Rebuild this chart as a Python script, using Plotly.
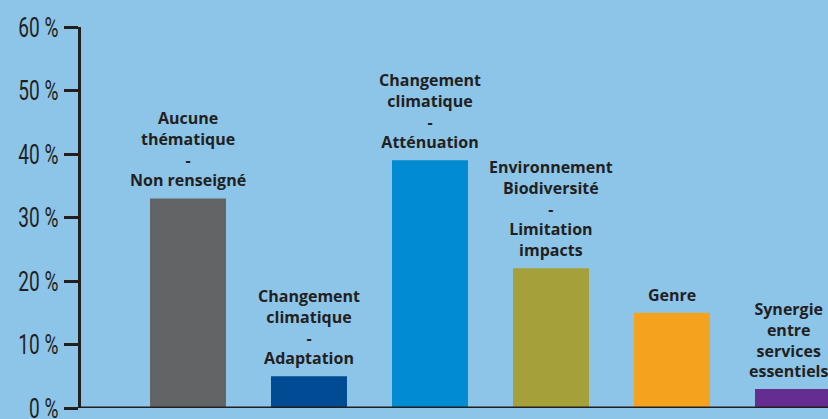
import plotly.graph_objects as go

categories = [
    "Aucune<br>thématique<br>-<br>Non renseigné",
    "Changement<br>climatique<br>-<br>Adaptation",
    "Changement<br>climatique<br>-<br>Atténuation",
    "Environnement<br>Biodiversité<br>-<br>Limitation<br>impacts",
    "Genre",
    "Synergie<br>entre<br>services<br>essentiels",
]
values = [33, 5, 39, 22, 15, 3]
colors = ["#636466", "#004b93", "#008bd2", "#a5a03a", "#f5a31e", "#652d90"]
tick_vals = [0, 10, 20, 30, 40, 50, 60]
tick_text = ["0 %", "10 %", "20 %", "30 %", "40 %", "50 %", "60 %"]

ink = "#231f20"
bg = "#8cc5e8"
xpos = list(range(len(values)))

fig = go.Figure()
fig.add_trace(go.Bar(x=xpos, y=values, marker=dict(color=colors, line=dict(width=0)),
                     width=0.628, hoverinfo="skip"))

for x, v, t in zip(xpos, values, categories):
    fig.add_annotation(x=x, y=v, text="<b>" + t + "</b>", showarrow=False,
                       yanchor="bottom", yshift=5, align="center",
                       xshift=-4 if x == len(values) - 1 else 0,
                       font=dict(family="Open Sans", size=16, color=ink))

fig.update_layout(
    width=828, height=419,
    margin=dict(l=81, r=0, t=27, b=11),
    paper_bgcolor=bg, plot_bgcolor=bg,
    showlegend=False,
    xaxis=dict(range=[-0.8843, 5.2893], showticklabels=False, ticks="", showgrid=False,
               zeroline=False, showline=False, fixedrange=True, automargin=False),
    yaxis=dict(range=[0, 60], tickvals=tick_vals, ticktext=tick_text, ticks="outside",
               ticklen=14, tickwidth=3, tickcolor=ink, showline=True, linewidth=3,
               linecolor=ink, showgrid=False, zeroline=False, ticklabelstandoff=0,
               ticklabeloverflow="allow", automargin=False, fixedrange=True,
               tickfont=dict(family="Roboto", size=28, color=ink)),
    shapes=[dict(type="line", xref="paper", yref="y", x0=0, x1=1, y0=0, y1=0,
                 line=dict(color=ink, width=3))],
)

post = """
var gd = document.getElementById('{plot_id}');
function squeeze(){
  gd.querySelectorAll('.ytick text').forEach(function(t){
    if (!t.getAttribute('textLength')) {
      var w = t.getComputedTextLength();
      t.setAttribute('textLength', (w * 0.68).toFixed(1));
      t.setAttribute('lengthAdjust', 'spacingAndGlyphs');
    }
  });
}
squeeze();
if (gd.on) { gd.on('plotly_afterplot', squeeze); }
"""

fig.write_html("out.html", post_script=post)
